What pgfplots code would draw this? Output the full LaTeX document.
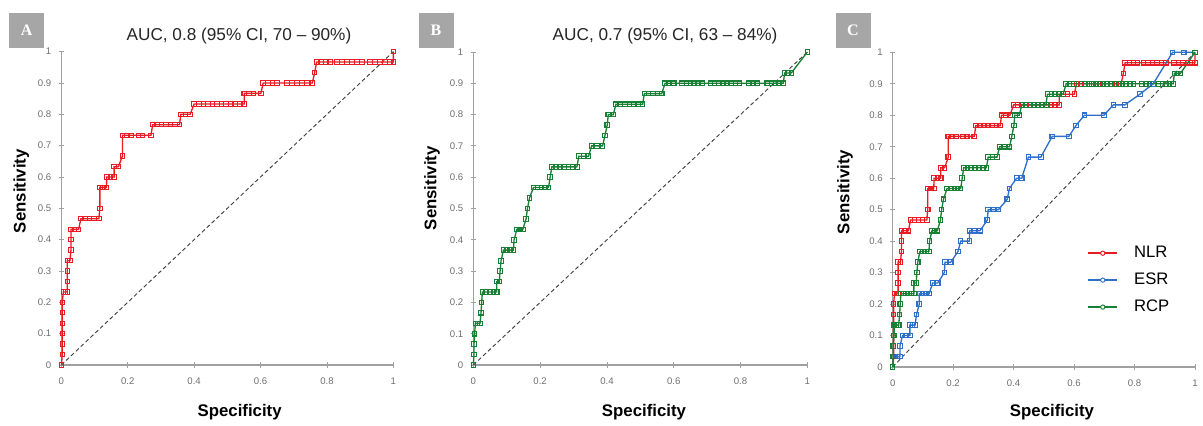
\documentclass[border=0pt]{standalone}
\usepackage{fontspec}
\setmainfont{Liberation Sans}
\newfontfamily\boxfont{Liberation Serif}
\usepackage{pgfplots}
\usepackage{pgfplotstable}
\pgfplotsset{compat=1.18}

\definecolor{nlr}{RGB}{232,28,34}
\definecolor{esr}{RGB}{46,112,200}
\definecolor{rcp}{RGB}{24,128,52}
\definecolor{axgray}{RGB}{160,160,160}
\definecolor{lblgray}{RGB}{110,110,110}
\definecolor{boxgray}{RGB}{166,166,166}

\pgfplotstableread{
x y
0 0
0.003 0.033
0.003 0.067
0.003 0.1
0.003 0.133
0.003 0.167
0.003 0.2
0.006 0.233
0.012 0.233
0.018 0.233
0.018 0.267
0.018 0.3
0.018 0.333
0.026 0.333
0.029 0.367
0.029 0.4
0.029 0.433
0.04 0.433
0.052 0.433
0.059 0.467
0.072 0.467
0.085 0.467
0.099 0.467
0.113 0.467
0.116 0.5
0.116 0.567
0.126 0.567
0.136 0.567
0.137 0.6
0.148 0.6
0.159 0.6
0.159 0.633
0.172 0.633
0.184 0.667
0.184 0.733
0.197 0.733
0.21 0.733
0.232 0.733
0.245 0.733
0.27 0.733
0.275 0.767
0.289 0.767
0.302 0.767
0.315 0.767
0.329 0.767
0.343 0.767
0.356 0.767
0.36 0.8
0.374 0.8
0.388 0.8
0.4 0.833
0.414 0.833
0.428 0.833
0.442 0.833
0.455 0.833
0.469 0.833
0.483 0.833
0.496 0.833
0.51 0.833
0.524 0.833
0.537 0.833
0.551 0.833
0.551 0.867
0.565 0.867
0.579 0.867
0.601 0.867
0.608 0.9
0.622 0.9
0.636 0.9
0.65 0.9
0.68 0.9
0.695 0.9
0.71 0.9
0.725 0.9
0.74 0.9
0.756 0.9
0.763 0.933
0.769 0.967
0.783 0.967
0.797 0.967
0.81 0.967
0.83 0.967
0.845 0.967
0.86 0.967
0.875 0.967
0.89 0.967
0.905 0.967
0.93 0.967
0.945 0.967
0.96 0.967
0.975 0.967
0.99 0.967
1 0.967
1 1
}\nlrtable

\pgfplotstableread{
x y
0 0
0.002 0.033
0.002 0.067
0.004 0.1
0.006 0.133
0.013 0.133
0.02 0.133
0.023 0.167
0.025 0.2
0.027 0.233
0.038 0.233
0.049 0.233
0.06 0.233
0.07 0.233
0.07 0.267
0.078 0.267
0.08 0.3
0.083 0.333
0.09 0.367
0.1 0.367
0.11 0.367
0.12 0.367
0.122 0.4
0.13 0.433
0.139 0.433
0.148 0.433
0.158 0.467
0.162 0.5
0.168 0.533
0.18 0.567
0.192 0.567
0.204 0.567
0.215 0.567
0.225 0.567
0.23 0.6
0.235 0.633
0.248 0.633
0.26 0.633
0.272 0.633
0.285 0.633
0.298 0.633
0.31 0.633
0.316 0.667
0.33 0.667
0.345 0.667
0.354 0.7
0.37 0.7
0.387 0.7
0.394 0.733
0.401 0.767
0.404 0.8
0.419 0.8
0.427 0.833
0.44 0.833
0.454 0.833
0.467 0.833
0.48 0.833
0.494 0.833
0.507 0.833
0.512 0.867
0.525 0.867
0.538 0.867
0.551 0.867
0.564 0.867
0.574 0.9
0.585 0.9
0.6 0.9
0.625 0.9
0.638 0.9
0.65 0.9
0.66 0.9
0.672 0.9
0.685 0.9
0.71 0.9
0.722 0.9
0.735 0.9
0.748 0.9
0.76 0.9
0.772 0.9
0.785 0.9
0.797 0.9
0.825 0.9
0.838 0.9
0.85 0.9
0.88 0.9
0.893 0.9
0.905 0.9
0.916 0.9
0.928 0.9
0.932 0.933
0.942 0.933
0.952 0.933
1 1
}\rcptable

\pgfplotstableread{
x y
0 0
0.004 0.033
0.014 0.033
0.024 0.033
0.024 0.067
0.033 0.1
0.045 0.1
0.057 0.1
0.057 0.133
0.066 0.133
0.074 0.133
0.079 0.167
0.088 0.2
0.088 0.233
0.099 0.233
0.11 0.233
0.121 0.233
0.132 0.267
0.149 0.267
0.171 0.3
0.173 0.333
0.192 0.333
0.216 0.367
0.225 0.4
0.254 0.4
0.254 0.433
0.271 0.433
0.289 0.433
0.313 0.467
0.316 0.5
0.333 0.5
0.35 0.5
0.379 0.533
0.386 0.567
0.41 0.6
0.427 0.6
0.449 0.667
0.49 0.667
0.528 0.733
0.583 0.733
0.606 0.767
0.634 0.8
0.699 0.8
0.73 0.833
0.768 0.833
0.818 0.867
0.862 0.9
0.926 1
0.963 1
1 1
}\esrtable

\pgfplotsset{
  rocaxis/.style={
    scale only axis,
    xmin=0, xmax=1, ymin=0, ymax=1,
    axis x line=bottom, axis y line=left,
    axis line style={-, draw=axgray, line width=0.8pt},
    xtick={0,0.2,0.4,0.6,0.8,1},
    ytick={0,0.1,0.2,0.3,0.4,0.5,0.6,0.7,0.8,0.9,1},
    tick align=center,
    major tick length=4pt,
    tick style={draw=axgray, line width=0.6pt},
    tick label style={font=\fontsize{7.2}{8}\selectfont, text=lblgray},
    /pgf/number format/assume math mode=true,
    /pgf/number format/.cd, fixed, precision=1, /pgfplots/.cd,
    xticklabel style={yshift=-4pt},
    yticklabel style={xshift=-2pt},
    clip=false,
    xlabel={\bfseries Specificity},
    ylabel={\bfseries Sensitivity},
    label style={font=\fontsize{12.6}{14}\selectfont},
    title style={font=\fontsize{12.9}{15}\selectfont, text=black!85, yshift=0pt},
  },
  rocline/.style={color=#1, draw=#1, line width=1pt, mark=square, mark size=1.7pt,
    mark options={solid, draw=#1, fill=white, line width=0.8pt}},
  diag/.style={densely dashed, black!75, line width=0.7pt, forget plot, mark=none},
}

\begin{document}
\begin{tikzpicture}
% Panel A
\begin{axis}[rocaxis, at={(46pt,45pt)}, anchor=south west, width=249pt, height=235pt,
  title={AUC, 0.8 (95\% CI, 70 -- 90\%)},
  title style={at={(axis description cs:0.535,1.025)}, anchor=center},
  xlabel style={at={(axis description cs:0.537,-0.15)}, anchor=center},
  ylabel style={at={(axis description cs:-0.121,0.555)}, anchor=center}]
\addplot[diag] coordinates {(0,0) (1,1)};
\addplot[rocline=nlr] table[x=x,y=y] {\nlrtable};
\end{axis}
% Panel B
\begin{axis}[rocaxis, at={(355pt,45pt)}, anchor=south west, width=250.5pt, height=234.75pt,
  title={AUC, 0.7 (95\% CI, 63 -- 84\%)},
  title style={at={(axis description cs:0.574,1.025)}, anchor=center},
  xlabel style={at={(axis description cs:0.511,-0.15)}, anchor=center},
  ylabel style={at={(axis description cs:-0.124,0.565)}, anchor=center}]
\addplot[diag] coordinates {(0,0) (1,1)};
\addplot[rocline=rcp] table[x=x,y=y] {\rcptable};
\end{axis}
% Panel C
\begin{axis}[rocaxis, at={(669.5pt,43.5pt)}, anchor=south west, width=226.7pt, height=236pt,
  xlabel style={at={(axis description cs:0.527,-0.143)}, anchor=center},
  ylabel style={at={(axis description cs:-0.158,0.556)}, anchor=center},
  legend style={at={(axis description cs:0.63,0.405)}, anchor=north west,
    draw=none, fill=white, font=\fontsize{12.5}{14}\selectfont,
    row sep=6pt, column sep=10pt, inner sep=3pt},
  legend cell align=left]
\addplot[diag] coordinates {(0,0) (1,1)};
\addplot[rocline=nlr,
  legend image code/.code={
    \draw[draw=nlr, solid, line width=1.1pt] (0pt,0pt) -- (22pt,0pt);
    \draw[draw=nlr, fill=white, solid, line width=0.7pt] (11pt,0pt) circle (1.6pt);}]
  table[x=x,y=y] {\nlrtable};
\addlegendentry{NLR}
\addplot[rocline=esr,
  legend image code/.code={
    \draw[draw=esr, solid, line width=1.1pt] (0pt,0pt) -- (22pt,0pt);
    \draw[draw=esr, fill=white, solid, line width=0.7pt] (11pt,0pt) circle (1.6pt);}]
  table[x=x,y=y] {\esrtable};
\addlegendentry{ESR}
\addplot[rocline=rcp,
  legend image code/.code={
    \draw[draw=rcp, solid, line width=1.1pt] (0pt,0pt) -- (22pt,0pt);
    \draw[draw=rcp, fill=white, solid, line width=0.7pt] (11pt,0pt) circle (1.6pt);}]
  table[x=x,y=y] {\rcptable};
\addlegendentry{RCP}
\end{axis}
% panel letters
\node[fill=boxgray, minimum size=26.25pt, inner sep=0pt, text=white,
  font=\boxfont\bfseries\fontsize{12}{14}\selectfont] at (19.9pt,295.9pt) {A};
\node[fill=boxgray, minimum size=26.25pt, inner sep=0pt, text=white,
  font=\boxfont\bfseries\fontsize{12}{14}\selectfont] at (327pt,295.9pt) {B};
\node[fill=boxgray, minimum size=26.25pt, inner sep=0pt, text=white,
  font=\boxfont\bfseries\fontsize{12}{14}\selectfont] at (639.75pt,295.9pt) {C};
\pgfresetboundingbox
\useasboundingbox (0,0) rectangle (902.25pt,318.75pt);
\end{tikzpicture}
\end{document}
